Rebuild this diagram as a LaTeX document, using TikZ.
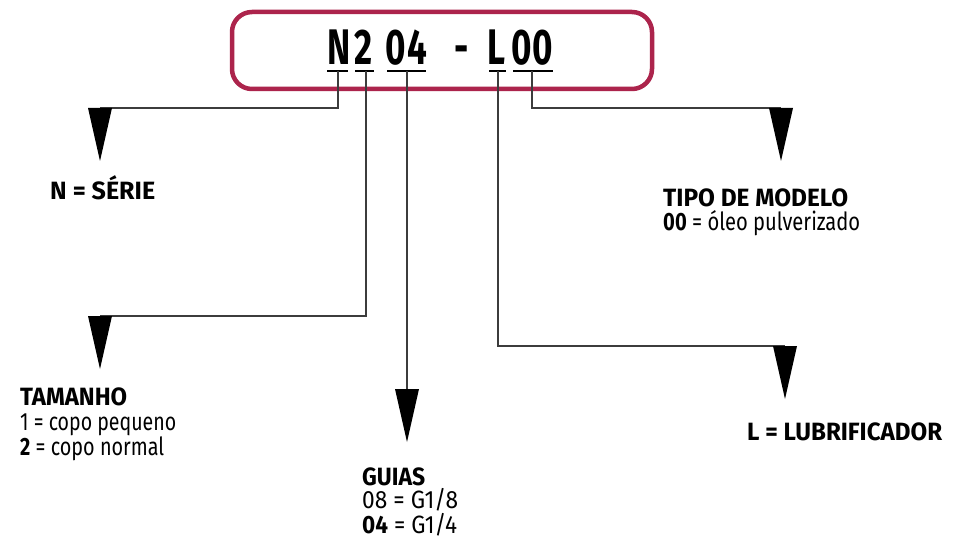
\documentclass[tikz,border=0pt]{standalone}
\usepackage{fontspec}
\usepackage{graphicx}
\setmainfont{Fira Sans}
\definecolor{boxred}{RGB}{172,36,76}
\definecolor{connc}{RGB}{60,60,60}
\newcommand{\fitw}[2]{\resizebox{#1pt}{\height}{#2}}
\tikzset{
  lbl/.style={inner sep=0pt, anchor=base west, font=\fontsize{25}{25}\selectfont},
  titlech/.style={inner sep=0pt, anchor=base, font=\fontsize{50}{50}\selectfont\bfseries},
  conn/.style={draw=connc, line width=1.4pt},
  uline/.style={draw=black, line width=2.2pt},
  boxline/.style={draw=boxred, line width=4.5pt, rounded corners=20pt},
  tri/.style={fill=black}
}
\newcommand{\tchar}[1]{\scalebox{0.7}[1]{#1}}
\begin{document}
\begin{tikzpicture}[x=1pt,y=-1pt]
\useasboundingbox (0,0) rectangle (961,548);
\fill[white] (0,0) rectangle (961,548);
% code box
\draw[boxline] (232,12) rectangle (652,89);
% title characters
\node[titlech] (cN)  at (339,65) {\tchar{N}};
\node[titlech] (c2)  at (364,65) {\tchar{2}};
\node[titlech] (c0a) at (396,65) {\tchar{0}};
\node[titlech] (c4)  at (417,65) {\tchar{4}};
\node[titlech] (cd)  at (462,65) {\tchar{-}};
\node[titlech] (cL)  at (496,65) {\tchar{L}};
\node[titlech] (c0b) at (522,65) {\tchar{0}};
\node[titlech] (c0c) at (543,65) {\tchar{0}};
% underlines
\draw[uline] (327,71) -- (348,71);
\draw[uline] (355,71) -- (374,71);
\draw[uline] (387,71) -- (426,71);
\draw[uline] (489,71) -- (506,71);
\draw[uline] (513,71) -- (553,71);
\coordinate (uN)  at (338,71);
\coordinate (u2)  at (366,71);
\coordinate (u04) at (407,71);
\coordinate (uL)  at (498,71);
\coordinate (u00) at (532,71);
% arrow heads (top centres)
\coordinate (tN)  at (100,108);
\coordinate (t2)  at (100,316);
\coordinate (t04) at (407,389);
\coordinate (tL)  at (785,346);
\coordinate (t00) at (781,108);
% connectors
\draw[conn] (uN) |- (tN);
\draw[conn] (u2) |- (t2);
\draw[conn] (u04) -- (t04);
\draw[conn] (uL) |- (tL);
\draw[conn] (u00) |- (t00);
% triangles
\foreach \t in {tN,t2,t04,tL,t00}{
  \fill[tri] (\t) ++(-12,0) -- ++(24,0) -- ++(-12,53) -- cycle;
}
% labels
\node[lbl] (serie) at (50,200) {\fitw{105}{\bfseries N = SÉRIE}};
\node[lbl] (tam)   at (20,405) {\fitw{107}{\bfseries TAMANHO}};
\node[lbl] (tam1)  at (20,430) {\fitw{156}{1 = copo pequeno}};
\node[lbl] (tam2)  at (20,455) {\fitw{144}{\textbf{2} = copo normal}};
\node[lbl] (gui)   at (362,485) {\fitw{63}{\bfseries GUIAS}};
\node[lbl] (gui1)  at (362,508) {\fitw{96}{08 = G1/8}};
\node[lbl] (gui2)  at (362,533) {\fitw{95}{\textbf{04} = G1/4}};
\node[lbl] (tipo)  at (663,207) {\fitw{185}{\bfseries TIPO DE MODELO}};
\node[lbl] (tipo1) at (663,230) {\fitw{197}{\textbf{00} = óleo pulverizado}};
\node[lbl] (lub)   at (747,440) {\fitw{195}{\bfseries L = LUBRIFICADOR}};
\end{tikzpicture}
\end{document}
